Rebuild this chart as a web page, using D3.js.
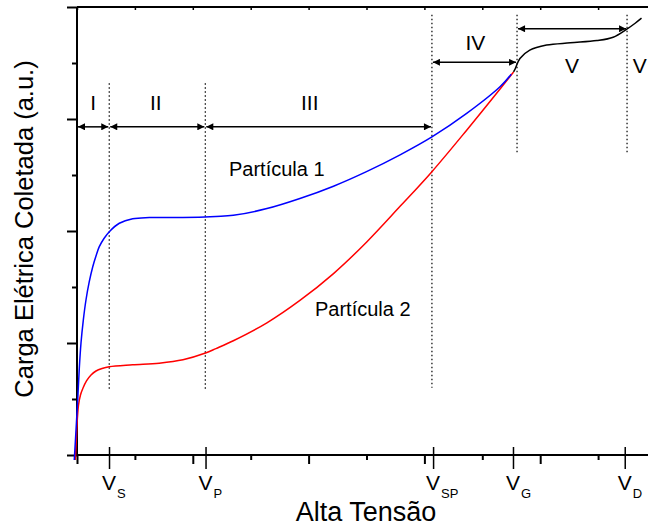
<!DOCTYPE html>
<html>
<head>
<meta charset="utf-8">
<script src="https://cdn.jsdelivr.net/npm/d3@7"></script>
<style>
  body { margin: 0; background: #fff; }
  text { font-family: "Liberation Sans", Arial, sans-serif; fill: #000; }
</style>
</head>
<body>
<svg id="chart" width="648" height="529"></svg>
<script>
// curve data (arbitrary units)
const particle1 = [
  [-0.047, -0.045], [-0.017, 0.223], [0.012, 0.491], [0.038, 0.759], [0.069, 1.0],
  [0.109, 1.205], [0.155, 1.384], [0.211, 1.545], [0.271, 1.679], [0.328, 1.777],
  [0.385, 1.86], [0.466, 1.933], [0.558, 1.994], [0.731, 2.069], [0.962, 2.11],
  [1.25, 2.12], [1.83, 2.12], [2.4, 2.13], [2.7, 2.14], [3.28, 2.2], [3.85, 2.29],
  [4.43, 2.4], [5.0, 2.53], [5.58, 2.68], [6.13, 2.84], [6.73, 3.05], [7.31, 3.29], [7.5, 3.4]
];
const particle2 = [
  [-0.029, -0.045], [-0.012, 0.134], [0.005, 0.313], [0.026, 0.446], [0.06, 0.536],
  [0.104, 0.598], [0.164, 0.661], [0.242, 0.714], [0.328, 0.75], [0.432, 0.772],
  [0.558, 0.788], [0.96, 0.805], [1.42, 0.82], [1.83, 0.85], [2.22, 0.91], [2.4, 0.95],
  [2.7, 1.02], [3.28, 1.18], [3.85, 1.38], [4.43, 1.62], [5.0, 1.9], [5.58, 2.22],
  [6.13, 2.53], [6.73, 2.9], [7.31, 3.27], [7.54, 3.42]
];
const combined = [
  [7.54, 3.42], [7.57, 3.45], [7.65, 3.54], [7.82, 3.615], [8.11, 3.66], [8.52, 3.68],
  [8.98, 3.7], [9.26, 3.73], [9.49, 3.8], [9.64, 3.855], [9.75, 3.9]
];

const xMajorTicks = [0, 2, 4, 6, 8, 10];
const xMinorTicks = [1, 3, 5, 7, 9];
const yMajorTicks = [0, 1, 2, 3, 4];
const yMinorTicks = [0.5, 1.5, 2.5, 3.5];

// marked voltages on the x axis
const markNames = ["S", "P", "SP", "G", "D"];
const markTicks = [0.553, 2.22, 6.15, 7.53, 9.46];
const markLines = [0.557, 2.216, 6.13, 7.6, 9.5];
const markLineTop = [3.32, 3.32, 3.93, 3.93, 3.93];
const markLineBottom = [0.58, 0.58, 0.6, 2.7, 2.7];

// regions
const regionNames = ["I", "II", "III", "IV", "V", "V"];
const regionLabelX = [0.28, 1.36, 4.02, 6.88, 8.55, 9.6];
const regionLabelY = [3.08, 3.08, 3.08, 3.62, 3.41, 3.41];
const regionArrowFrom = [0, 0.557, 2.216, 6.13, 7.6];
const regionArrowTo = [0.557, 2.216, 6.13, 7.6, 9.5];
const regionArrowY = [2.93, 2.93, 2.93, 3.506, 3.806];

const svg = d3.select("#chart");
const x = d3.scaleLinear().domain([0, 10]).range([77, 656]);
const y = d3.scaleLinear().domain([0, 4]).range([455, 7]);

svg.append("defs").append("marker")
    .attr("id", "head")
    .attr("viewBox", "0 0 10 10")
    .attr("refX", 10).attr("refY", 5)
    .attr("markerUnits", "userSpaceOnUse")
    .attr("markerWidth", 9).attr("markerHeight", 7)
    .attr("orient", "auto-start-reverse")
  .append("path")
    .attr("d", "M0,0L10,5L0,10Z")
    .attr("fill", "#000");

// axes
function styleAxis(g, w) {
    g.select(".domain").remove();
    g.selectAll(".tick line").attr("stroke", "#000").attr("stroke-width", w);
    g.selectAll(".tick text").remove();
}

svg.append("g").attr("transform", "translate(0,455)")
    .call(d3.axisBottom(x).tickValues(xMajorTicks).tickSize(9)).call(styleAxis, 2);
svg.append("g").attr("transform", "translate(0,455)")
    .call(d3.axisBottom(x).tickValues(xMinorTicks).tickSize(5)).call(styleAxis, 2);
svg.append("g").attr("transform", "translate(0,7)")
    .call(d3.axisTop(x).tickValues(xMajorTicks.concat(xMinorTicks)).tickSize(-3)).call(styleAxis, 1.5);
svg.append("g").attr("transform", "translate(77,0)")
    .call(d3.axisLeft(y).tickValues(yMajorTicks).tickSize(10)).call(styleAxis, 2);
svg.append("g").attr("transform", "translate(77,0)")
    .call(d3.axisLeft(y).tickValues(yMinorTicks).tickSize(5)).call(styleAxis, 2);

svg.append("line").attr("x1", 77).attr("x2", 648).attr("y1", 455).attr("y2", 455)
    .attr("stroke", "#000").attr("stroke-width", 2);
svg.append("line").attr("x1", 77).attr("x2", 648).attr("y1", 7).attr("y2", 7)
    .attr("stroke", "#000").attr("stroke-width", 2);
svg.append("line").attr("x1", 77).attr("x2", 77).attr("y1", 7).attr("y2", 455)
    .attr("stroke", "#000").attr("stroke-width", 2);

// marked voltage ticks + labels
svg.append("g").attr("transform", "translate(0,447)")
    .call(d3.axisBottom(x).tickValues(markTicks).tickSize(22)).call(styleAxis, 1.5);

const marks = svg.append("g");
markTicks.forEach((v, i) => {
    marks.append("text")
        .attr("x", x(v)).attr("y", 490)
        .attr("text-anchor", "middle")
        .attr("font-size", 21)
        .text("V");
    marks.append("text")
        .attr("x", x(v) + 8).attr("y", 498)
        .attr("font-size", 13)
        .text(markNames[i]);
});

// dotted guide lines
markLines.forEach((v, i) => {
    svg.append("line")
        .attr("x1", x(v)).attr("x2", x(v))
        .attr("y1", y(markLineTop[i])).attr("y2", y(markLineBottom[i]))
        .attr("stroke", "#000").attr("stroke-width", 1.2)
        .attr("stroke-dasharray", "1.5,2.5");
});

// curves
const line = d3.line().x(d => x(d[0])).y(d => y(d[1])).curve(d3.curveCatmullRom.alpha(0.5));
svg.append("path").datum(particle2).attr("d", line)
    .attr("fill", "none").attr("stroke", "#ff0000").attr("stroke-width", 1.5);
svg.append("path").datum(particle1).attr("d", line)
    .attr("fill", "none").attr("stroke", "#0000ff").attr("stroke-width", 1.5);
svg.append("path").datum(combined).attr("d", line)
    .attr("fill", "none").attr("stroke", "#000").attr("stroke-width", 1.5);

// region arrows
regionArrowFrom.forEach((v, i) => {
    svg.append("line")
        .attr("x1", x(v) + 1).attr("x2", x(regionArrowTo[i]) - 1)
        .attr("y1", y(regionArrowY[i])).attr("y2", y(regionArrowY[i]))
        .attr("stroke", "#000").attr("stroke-width", 1.5)
        .attr("marker-start", "url(#head)")
        .attr("marker-end", "url(#head)");
});
regionNames.forEach((n, i) => {
    svg.append("text")
        .attr("x", x(regionLabelX[i])).attr("y", y(regionLabelY[i]))
        .attr("text-anchor", i === 5 ? "start" : "middle")
        .attr("font-size", 21)
        .text(n);
});

// curve labels
svg.append("text").attr("x", x(2.625)).attr("y", y(2.49))
    .attr("font-size", 20).text("Partícula 1");
svg.append("text").attr("x", x(4.11)).attr("y", y(1.24))
    .attr("font-size", 20).text("Partícula 2");

// axis titles
svg.append("text").attr("x", 366).attr("y", 521)
    .attr("text-anchor", "middle").attr("font-size", 27).text("Alta Tensão");
svg.append("text")
    .attr("transform", "translate(33,229) rotate(-90)")
    .attr("text-anchor", "middle").attr("font-size", 25.5)
    .text("Carga Elétrica Coletada (a.u.)");
</script>
</body>
</html>
